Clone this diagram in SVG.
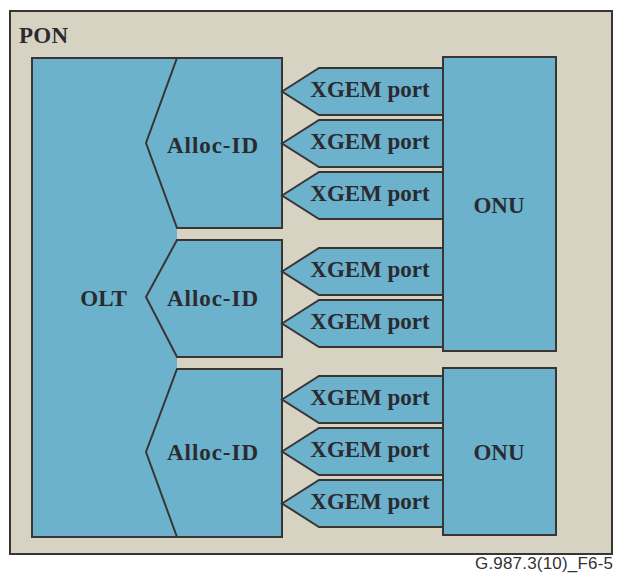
<svg xmlns="http://www.w3.org/2000/svg" width="617" height="580" viewBox="0 0 617 580">
<style>
.bx{fill:#6cb2cc;stroke:#3a3434;stroke-width:2;stroke-linejoin:miter}
.lb{font-family:"Liberation Serif","Times New Roman",serif;font-weight:bold;font-size:23px;fill:#2a2a30}
.mid{text-anchor:middle}
</style>
<rect width="617" height="580" fill="#ffffff"/>
<g id="pon">
<rect x="10" y="11" width="602" height="543" fill="#d7d3c3" stroke="#3a3434" stroke-width="2"/>
<text class="lb" x="19" y="43" textLength="49">PON</text>
</g>
<g id="olt">
<path d="M32,58 H177 L146,143 L177,228 V240 L146,297 L177,357 V369 L146,452 L177,537 H32 Z" fill="#6cb2cc"/>
<path d="M177,58 H32 V537 H177" fill="none" stroke="#3a3434" stroke-width="2"/>
<text class="lb mid" x="103.5" y="306">OLT</text>
</g>
<g id="alloc1">
<polygon class="bx" points="177,58 282,58 282,228 177,228 146,143"/>
<text class="lb mid" x="212.5" y="153" textLength="91">Alloc-ID</text>
</g>
<g id="alloc2">
<polygon class="bx" points="177,240 282,240 282,357 177,357 146,297"/>
<text class="lb mid" x="212.5" y="306" textLength="91">Alloc-ID</text>
</g>
<g id="alloc3">
<polygon class="bx" points="177,369 282,369 282,537 177,537 146,452"/>
<text class="lb mid" x="212.5" y="460" textLength="91">Alloc-ID</text>
</g>
<g id="ports">
<g id="port1"><polygon class="bx" points="282,91.5 319,68 443,68 443,115 319,115"/><text class="lb mid" x="370" y="97">XGEM port</text></g>
<g id="port2"><polygon class="bx" points="282,143.5 319,120 443,120 443,167 319,167"/><text class="lb mid" x="370" y="149">XGEM port</text></g>
<g id="port3"><polygon class="bx" points="282,195.5 319,172 443,172 443,219 319,219"/><text class="lb mid" x="370" y="201">XGEM port</text></g>
<g id="port4"><polygon class="bx" points="282,271.5 319,248 443,248 443,295 319,295"/><text class="lb mid" x="370" y="277">XGEM port</text></g>
<g id="port5"><polygon class="bx" points="282,323.5 319,300 443,300 443,347 319,347"/><text class="lb mid" x="370" y="329">XGEM port</text></g>
<g id="port6"><polygon class="bx" points="282,399.5 319,376 443,376 443,423 319,423"/><text class="lb mid" x="370" y="405">XGEM port</text></g>
<g id="port7"><polygon class="bx" points="282,451.5 319,428 443,428 443,475 319,475"/><text class="lb mid" x="370" y="457">XGEM port</text></g>
<g id="port8"><polygon class="bx" points="282,503.5 319,480 443,480 443,527 319,527"/><text class="lb mid" x="370" y="509">XGEM port</text></g>
</g>
<g id="onu1">
<rect class="bx" x="443" y="57" width="113" height="294"/>
<text class="lb mid" x="499" y="213">ONU</text>
</g>
<g id="onu2">
<rect class="bx" x="443" y="368" width="113" height="167"/>
<text class="lb mid" x="499" y="460">ONU</text>
</g>
<g id="connectors"></g>
<text x="613" y="569" text-anchor="end" font-family="Liberation Sans, Arial, sans-serif" font-size="17" fill="#333" textLength="138">G.987.3(10)_F6-5</text>
</svg>
